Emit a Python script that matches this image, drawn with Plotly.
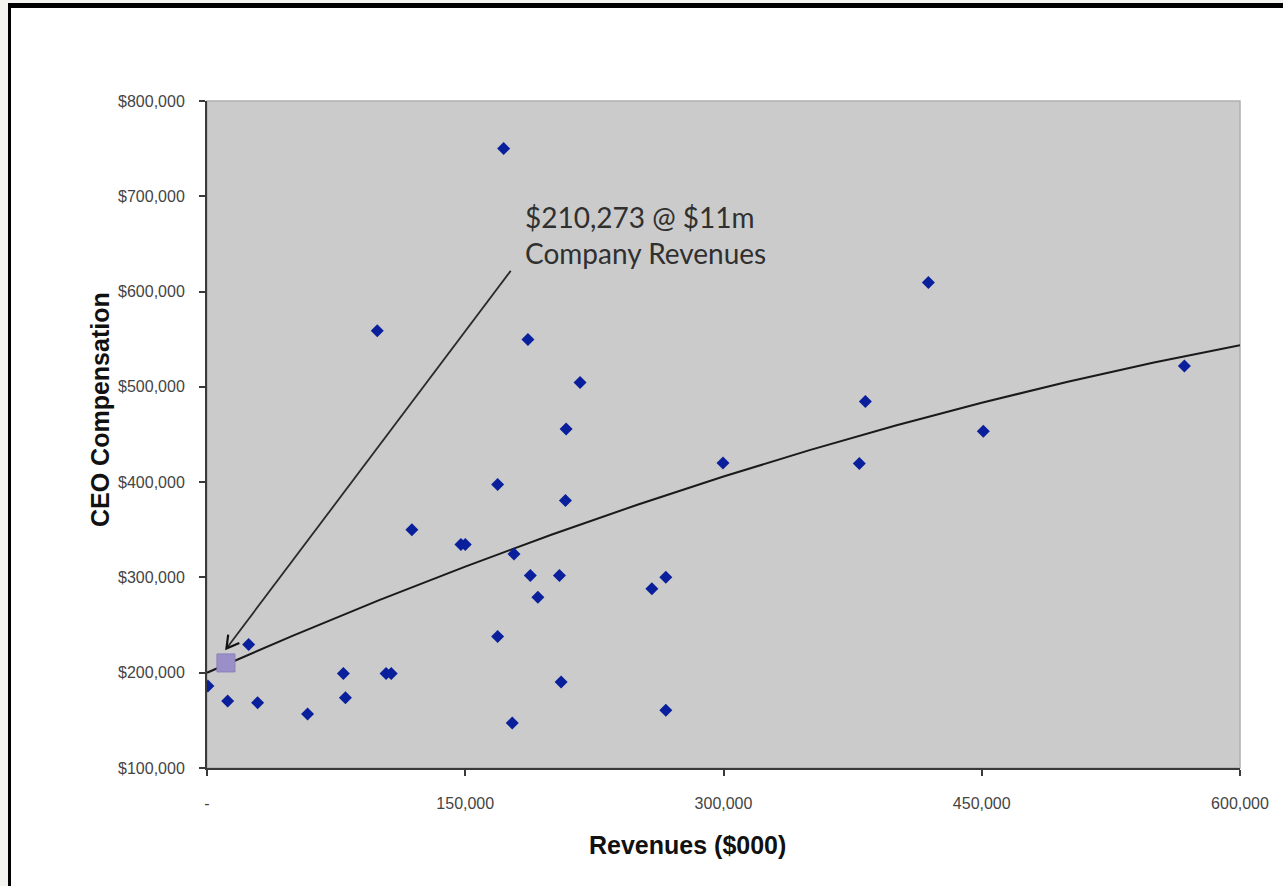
import plotly.graph_objects as go

# ---- data ----
revenues = [500, 12000, 24200, 29400, 58400, 79200, 80400, 98900, 104000, 107000,
            119000, 147500, 150000, 168800, 168800, 172300, 177300, 178300, 186400,
            187800, 192200, 204700, 205700, 208200, 208600, 216700, 258400, 266500,
            266500, 299700, 378900, 382400, 419000, 450900, 567700]
compensation = [186000, 170300, 229700, 168500, 156600, 199300, 173700, 558800, 199300, 199300,
                350100, 334600, 334600, 397600, 238000, 750100, 147200, 324600, 549700,
                302100, 279100, 302100, 190200, 380700, 455900, 504600, 288200, 300200,
                160500, 420000, 419600, 484600, 609500, 453400, 522000]

highlight_rev = [11000]
highlight_comp = [210273]

trend_x = [0, 50000, 100000, 150000, 200000, 250000, 300000, 350000, 400000,
           450000, 500000, 550000, 600000]
trend_y = [200000, 239000, 276200, 311400, 344800, 376300, 405900, 433600, 459400,
           483300, 505400, 525500, 543800]

x_tickvals = [0, 150000, 300000, 450000, 600000]
x_ticktext = ["-", "150,000", "300,000", "450,000", "600,000"]
y_tickvals = [100000, 200000, 300000, 400000, 500000, 600000, 700000, 800000]

note_text = "$210,273 @ $11m<br>Company Revenues"
arrow_tail = (176400, 621700)
arrow_head = (11300, 225500)

# ---- layout geometry (pixels) ----
W, H = 1283, 886
L, R, T, B = 207, 43, 101, 118
PW, PH = W - L - R, H - T - B


def xp(px):
    return (px - L) / PW


def yp(py):
    return (H - B - py) / PH


fig = go.Figure()

fig.add_trace(go.Scatter(
    x=trend_x, y=trend_y, mode="lines",
    line=dict(color="#1a1a1a", width=2), hoverinfo="skip", showlegend=False))

fig.add_trace(go.Scatter(
    x=revenues, y=compensation, mode="markers",
    marker=dict(symbol="diamond", size=10, color="#0a1f9c"),
    showlegend=False))

fig.add_trace(go.Scatter(
    x=highlight_rev, y=highlight_comp, mode="markers",
    marker=dict(symbol="square", size=18, color="#9b8fc8",
                line=dict(color="#8a7fb8", width=1)),
    showlegend=False))

shapes = [
    # outer off-white strips
    dict(type="rect", xref="paper", yref="paper", x0=xp(0), x1=xp(W), y0=yp(3), y1=yp(0),
         fillcolor="#f3f3ef", line=dict(width=0), layer="below"),
    dict(type="rect", xref="paper", yref="paper", x0=xp(0), x1=xp(8), y0=yp(H), y1=yp(0),
         fillcolor="#f3f3ef", line=dict(width=0), layer="below"),
    # black frame (top and left)
    dict(type="line", xref="paper", yref="paper", x0=xp(8), x1=xp(W), y0=yp(5.5), y1=yp(5.5),
         line=dict(color="black", width=5), layer="below"),
    dict(type="line", xref="paper", yref="paper", x0=xp(9.5), x1=xp(9.5), y0=yp(3), y1=yp(H),
         line=dict(color="black", width=3), layer="below"),
    # plot area border
    dict(type="rect", xref="paper", yref="paper", x0=0, x1=1, y0=0, y1=1,
         line=dict(color="#b0b0b0", width=1.5), fillcolor="rgba(0,0,0,0)", layer="below"),
    # arrow shaft
    dict(type="line", xref="x", yref="y", x0=arrow_tail[0], y0=arrow_tail[1],
         x1=arrow_head[0], y1=arrow_head[1], line=dict(color="#2a2a2a", width=1.8)),
    # open arrow head
    dict(type="path", xref="x", yref="y", xsizemode="pixel", ysizemode="pixel",
         xanchor=arrow_head[0], yanchor=arrow_head[1],
         path="M 12.9 5.4 L 0 0 L 1.75 13.9", line=dict(color="#111111", width=2.2)),
]

annotations = [
    dict(text=note_text, xref="paper", yref="paper", x=xp(523), y=yp(198),
         xanchor="left", yanchor="top", align="left", showarrow=False,
         font=dict(family="Lato", size=28, color="#303030")),
    dict(text="<b>CEO Compensation</b>", xref="paper", yref="paper", x=xp(100), y=yp(410),
         xanchor="center", yanchor="middle", textangle=-90, showarrow=False,
         font=dict(family="Liberation Sans", size=25, color="#111111")),
    dict(text="<b>Revenues ($000)</b>", xref="paper", yref="paper", x=xp(687), y=yp(845),
         xanchor="center", yanchor="middle", showarrow=False,
         font=dict(family="Liberation Sans", size=25, color="#111111")),
]

fig.update_layout(
    width=W, height=H,
    margin=dict(l=L, r=R, t=T, b=B, pad=0),
    paper_bgcolor="white", plot_bgcolor="#cbcbcb",
    shapes=shapes, annotations=annotations,
    showlegend=False,
    xaxis=dict(range=[0, 600000], tickvals=x_tickvals, ticktext=x_ticktext,
               showgrid=False, zeroline=False, showline=True, linecolor="#3a3a3a",
               linewidth=2, ticks="outside", ticklen=6, tickcolor="#3a3a3a", tickwidth=2,
               ticklabelstandoff=14,
               tickfont=dict(family="Liberation Sans", size=16, color="#444444")),
    yaxis=dict(range=[100000, 800000], tickvals=y_tickvals, tickformat="$,.0f",
               showgrid=False, zeroline=False, showline=True, linecolor="#3a3a3a",
               linewidth=2, ticks="outside", ticklen=6, tickcolor="#3a3a3a", tickwidth=2,
               ticklabelstandoff=11,
               tickfont=dict(family="Liberation Sans", size=16, color="#444444")),
)

fig.write_html("out.html")
